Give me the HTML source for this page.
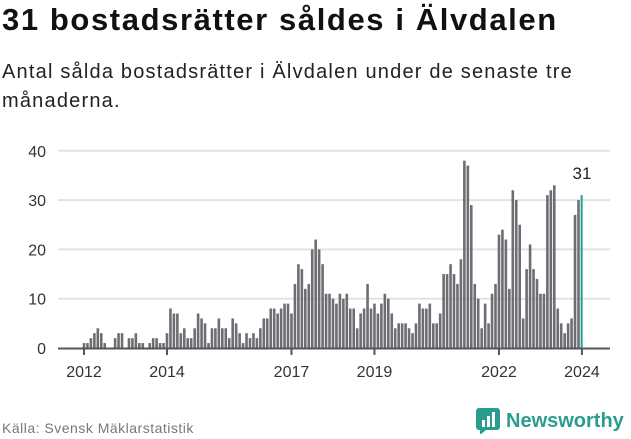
<!DOCTYPE html>
<html><head><meta charset="utf-8"><style>
body{margin:0;width:631px;height:439px;background:#fff;font-family:"Liberation Sans",sans-serif;overflow:hidden;position:relative}
h1{position:absolute;left:2px;top:2px;margin:0;font-size:31px;font-weight:bold;color:#111;letter-spacing:1.6px;white-space:nowrap}
.sub{position:absolute;left:2px;top:58px;font-size:20px;line-height:29px;color:#222;width:630px;letter-spacing:1.2px}
.src{position:absolute;left:2px;top:420px;font-size:14px;color:#777;letter-spacing:0.5px}
.logo{position:absolute;left:476px;top:408px;display:flex;align-items:center;color:#2a9d8f;font-size:20px;font-weight:bold}
</style></head><body>
<h1>31 bostadsrätter såldes i Älvdalen</h1>
<div class="sub">Antal sålda bostadsrätter i Älvdalen under de senaste tre<br>månaderna.</div>
<svg id="c" width="631" height="439" style="position:absolute;left:0;top:0"></svg>
<div class="src">Källa: Svensk Mäklarstatistik</div>
<div class="logo"><svg width="24" height="26" style="margin-right:6px"><rect x="0" y="0" width="24" height="22" rx="3" fill="#2a9d8f"/><polygon points="4,22 10,22 4,27" fill="#2a9d8f"/><rect x="6" y="12" width="3" height="7" fill="#fff"/><rect x="11" y="8" width="3" height="11" fill="#fff"/><rect x="16" y="4" width="3" height="15" fill="#fff"/></svg>Newsworthy</div>
<script>
const values=[1,1,2,3,4,3,1,0,0,2,3,3,0,2,2,3,1,1,0,1,2,2,1,1,3,8,7,7,3,4,2,2,4,7,6,5,1,4,4,6,4,4,2,6,5,
3,1,3,2,3,2,4,6,6,8,8,7,8,9,9,7,13,17,16,12,13,20,22,20,17,11,11,10,9,11,10,11,8,8,4,7,8,13,8,9,7,9,11,10,7,4,5,5,5,4,
3,
5,9,8,8,9,5,5,7,15,15,17,15,13,18,38,37,29,13,10,4,9,5,11,13,23,24,22,12,32,30,25,6,16,21,16,14,11,11,31,32,33,8,5,3,5,6,27,30,31];
const yTicks=[0,10,20,30,40];
const xTickYears=[2012,2014,2017,2019,2022,2024];
const startYear=2012;
const svg=document.getElementById('c');const NS='http://www.w3.org/2000/svg';
const y=v=>348-v*4.93;
const x=i=>84+i*3.458;
function mk(t,a){const e=document.createElementNS(NS,t);for(const k in a)e.setAttribute(k,a[k]);svg.appendChild(e);return e;}
yTicks.forEach(t=>{
 if(t>0){const g=mk('line',{x1:58,x2:610,y1:y(t),y2:y(t),stroke:'#e2e2e2','stroke-width':2});
 
 }
 const l=mk('text',{x:46,y:y(t)+6,'text-anchor':'end','font-size':16,fill:'#333'});l.textContent=t;
 
 
});
values.forEach((v,i)=>{
 const last=i===values.length-1;
 const r=mk('rect',{x:x(i)-1.3,y:y(v),width:last?2:2.6,height:v*4.93,fill:last?'#1aa39a':'#6e6d73'});
 
 
});
const ax=mk('line',{x1:58,x2:610,y1:348.5,y2:348.5,stroke:'#555','stroke-width':2});


xTickYears.forEach(yr=>{
 const xi=x((yr-startYear)*12);
 const tk=mk('line',{x1:xi,x2:xi,y1:348,y2:355,stroke:'#555','stroke-width':2});
 
 
 const l=mk('text',{x:xi,y:377,'text-anchor':'middle','font-size':16,fill:'#333'});l.textContent=yr;
 
 
});
const a=mk('text',{x:x(values.length-1),y:179,'text-anchor':'middle','font-size':17,fill:'#222'});a.textContent=values[values.length-1];


</script>
</body></html>
